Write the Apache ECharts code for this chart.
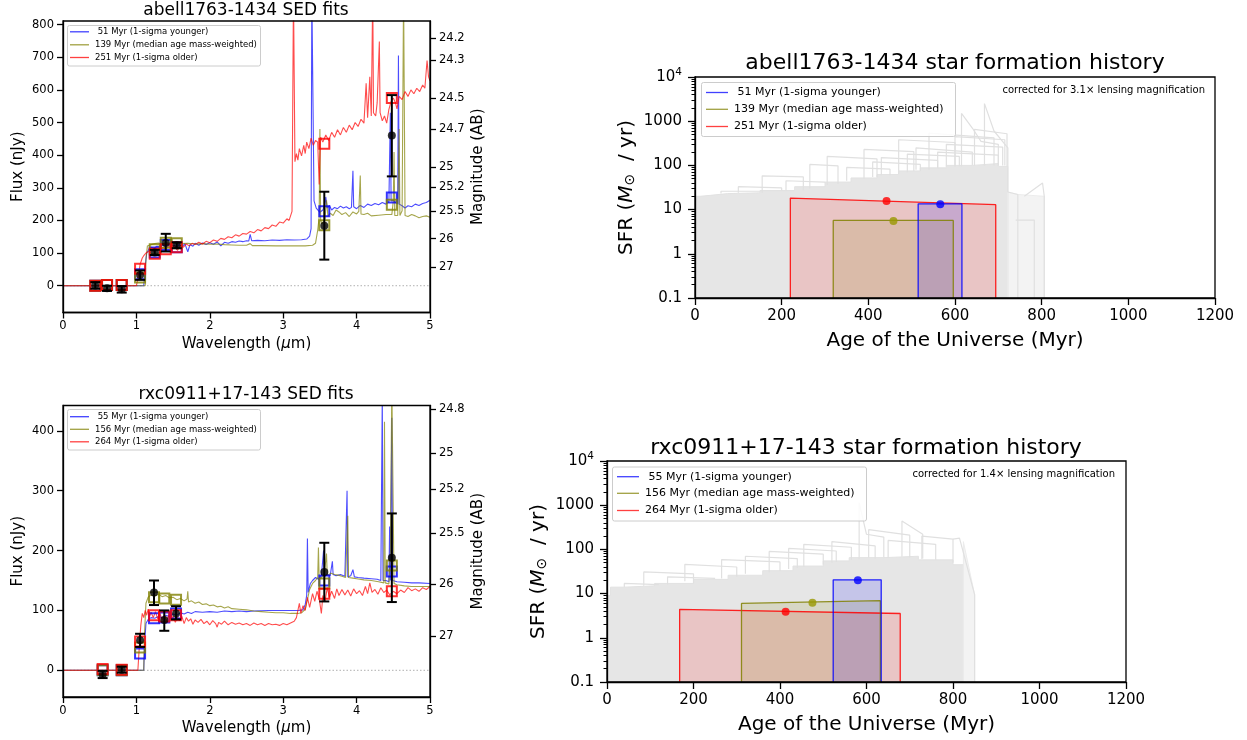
<!DOCTYPE html>
<html>
<head>
<meta charset="utf-8">
<script src="https://cdn.jsdelivr.net/npm/echarts@6/dist/echarts.min.js"></script>
<style>
  html, body { margin: 0; padding: 0; background: #fff; }
  #chart { width: 1247px; height: 740px; }
</style>
</head>
<body>
<div id="chart"></div>
<script>
// ---------- axis ticks ----------
const wavelengthTicks = [0, 1, 2, 3, 4, 5];
const fluxTicksA = [0, 100, 200, 300, 400, 500, 600, 700, 800];
const fluxTicksB = [0, 100, 200, 300, 400];
const magTicksA = [24.2, 24.3, 24.5, 24.7, 25, 25.2, 25.5, 26, 27];
const magTicksB = [24.8, 25, 25.2, 25.5, 26, 27];
const ageTicks = [0, 200, 400, 600, 800, 1000, 1200];
const sfrTicks = [0.1, 1, 10, 100, 1000, 10000];
const sfrMinorTicks = [0.2,0.3,0.4,0.5,0.6,0.7,0.8,0.9, 2,3,4,5,6,7,8,9, 20,30,40,50,60,70,80,90,
  200,300,400,500,600,700,800,900, 2000,3000,4000,5000,6000,7000,8000,9000];

// ---------- labels ----------
const titlesSed = ['abell1763-1434 SED fits', 'rxc0911+17-143 SED fits'];
const titlesSfh = ['abell1763-1434 star formation history', 'rxc0911+17-143 star formation history'];
const legendA = [' 51 Myr (1-sigma younger)', '139 Myr (median age mass-weighted)', '251 Myr (1-sigma older)'];
const legendB = [' 55 Myr (1-sigma younger)', '156 Myr (median age mass-weighted)', '264 Myr (1-sigma older)'];
const lensingNotes = ['corrected for 3.1\u00d7 lensing magnification', 'corrected for 1.4\u00d7 lensing magnification'];

// ---------- photometry: abell1763-1434 ----------
const bandsA = [0.44, 0.6, 0.8, 1.05, 1.25, 1.4, 1.55, 3.56, 4.48];
const obsFluxA = [1, -8, -11, 33, 102, 131, 124, 184, 460];
const obsLoA = [-9, -16, -21, 18, 94, 105, 115, 80, 335];
const obsHiA = [11, 0, -1, 47, 110, 159, 133, 288, 584];
const modelBlueA = [0, 2, 2, 35, 102, 125, 118, 228, 270];
const modelOliveA = [0, 2, 2, 25, 112, 132, 130, 185, 248];
const modelRedA = [0, 2, 2, 52, 98, 112, 118, 435, 575];

// ---------- photometry: rxc0911+17-143 ----------
const bandsB = [0.54, 0.8, 1.05, 1.24, 1.38, 1.54, 3.56, 4.48];
const obsFluxB = [-7, 1, 50, 130, 84, 95, 164, 188];
const obsLoB = [-13, -4, 39, 109, 66, 85, 115, 114];
const obsHiB = [-1, 6, 61, 150, 100, 107, 213, 262];
const modelBlueB = [0, 0, 28, 87, 88, 95, 150, 165];
const modelOliveB = [0, 0, 38, 122, 120, 118, 145, 175];
const modelRedB = [2, 1, 48, 92, 90, 92, 128, 132];

// ---------- model spectra: abell1763-1434 (wavelength um, flux nJy) ----------
const specBlueA = [[0,0],[1.1,0],[1.12,60],[1.14,100],[1.17,112],[1.2,118],[1.24,115],[1.28,121],[1.32,119],[1.36,124],[1.4,122],[1.44,126],[1.48,120],[1.52,125],[1.55,112],[1.58,127],[1.62,118],[1.66,129],[1.7,104],[1.73,126],[1.77,121],[1.8,130],[1.85,124],[1.9,131],[1.95,126],[2.0,132],[2.05,127],[2.1,134],[2.15,122],[2.2,133],[2.25,130],[2.3,135],[2.35,133],[2.4,137],[2.45,135],[2.5,138],[2.53,137],[2.55,157],[2.57,138],[2.65,139],[2.75,138],[2.85,140],[2.95,139],[3.05,141],[3.15,140],[3.25,141],[3.32,143],[3.36,152],[3.38,175],[3.39,900],[3.41,900],[3.42,260],[3.45,238],[3.5,225],[3.54,232],[3.57,250],[3.58,272],[3.6,238],[3.63,246],[3.66,232],[3.7,240],[3.74,236],[3.78,244],[3.82,238],[3.86,242],[3.9,236],[3.93,240],[3.95,352],[3.96,242],[4.0,236],[4.05,246],[4.1,240],[4.15,250],[4.2,246],[4.25,252],[4.3,248],[4.35,255],[4.4,250],[4.44,258],[4.46,530],[4.47,260],[4.5,262],[4.53,255],[4.56,250],[4.57,705],[4.58,250],[4.62,245],[4.66,238],[4.7,245],[4.75,242],[4.8,250],[4.85,246],[4.9,252],[4.95,255],[5.0,262]];
const specOliveA = [[0,0],[1.12,0],[1.13,80],[1.15,122],[1.2,126],[1.25,129],[1.3,131],[1.35,128],[1.4,132],[1.45,130],[1.5,131],[1.6,129],[1.7,130],[1.8,128],[1.9,129],[2.0,127],[2.1,128],[2.2,126],[2.3,125],[2.4,124],[2.5,124],[2.55,129],[2.58,123],[2.7,123],[2.9,122],[3.1,122],[3.3,122],[3.4,124],[3.44,130],[3.47,170],[3.49,210],[3.5,480],[3.51,200],[3.53,190],[3.55,188],[3.57,205],[3.59,262],[3.61,212],[3.64,222],[3.68,215],[3.72,232],[3.76,226],[3.8,218],[3.85,224],[3.9,212],[3.95,226],[4.0,220],[4.03,228],[4.05,338],[4.06,220],[4.1,218],[4.15,222],[4.2,214],[4.3,216],[4.4,218],[4.48,218],[4.5,260],[4.51,410],[4.52,215],[4.56,215],[4.58,480],[4.59,215],[4.62,230],[4.64,900],[4.66,215],[4.7,212],[4.75,218],[4.8,214],[4.85,208],[4.9,212],[4.95,214],[5.0,210]];
const specRedA = [[0,0],[1.0,0],[1.02,20],[1.05,65],[1.08,85],[1.1,92],[1.13,100],[1.16,104],[1.2,108],[1.24,106],[1.28,112],[1.32,110],[1.36,116],[1.4,113],[1.44,120],[1.48,117],[1.52,123],[1.56,108],[1.6,124],[1.64,118],[1.68,128],[1.72,122],[1.76,130],[1.8,126],[1.85,133],[1.9,128],[1.95,136],[2.0,132],[2.05,140],[2.1,136],[2.15,145],[2.2,142],[2.25,150],[2.3,147],[2.35,156],[2.4,152],[2.45,160],[2.5,158],[2.55,166],[2.6,162],[2.65,172],[2.7,168],[2.75,178],[2.8,175],[2.85,186],[2.9,182],[2.95,195],[3.0,192],[3.05,205],[3.08,200],[3.12,228],[3.13,232],[3.14,900],[3.15,900],[3.16,380],[3.18,405],[3.2,385],[3.22,420],[3.25,398],[3.28,430],[3.3,405],[3.32,440],[3.35,420],[3.38,452],[3.41,430],[3.44,445],[3.47,440],[3.49,310],[3.51,455],[3.54,440],[3.58,462],[3.62,445],[3.66,470],[3.7,455],[3.74,478],[3.78,462],[3.82,485],[3.86,470],[3.9,492],[3.94,478],[3.98,500],[4.02,488],[4.06,510],[4.1,498],[4.13,620],[4.15,515],[4.18,640],[4.2,520],[4.22,900],[4.23,530],[4.26,520],[4.28,560],[4.31,748],[4.32,530],[4.35,505],[4.38,520],[4.41,498],[4.44,540],[4.47,565],[4.5,575],[4.53,560],[4.55,542],[4.58,580],[4.62,570],[4.66,595],[4.7,580],[4.74,600],[4.78,588],[4.82,605],[4.86,595],[4.9,615],[4.93,605],[4.96,690],[4.98,640],[5.0,628]];

// ---------- model spectra: rxc0911+17-143 ----------
const specBlueB = [[0,0],[1.1,0],[1.11,40],[1.13,78],[1.16,85],[1.2,88],[1.25,87],[1.3,90],[1.35,88],[1.4,92],[1.45,90],[1.5,94],[1.55,92],[1.6,96],[1.65,94],[1.7,97],[1.75,95],[1.8,98],[1.9,97],[2.0,98],[2.1,97],[2.2,99],[2.3,98],[2.4,99],[2.5,98],[2.6,99],[2.8,100],[3.0,100],[3.2,100],[3.27,101],[3.3,110],[3.32,125],[3.33,220],[3.34,130],[3.37,145],[3.4,150],[3.44,155],[3.48,152],[3.52,158],[3.55,200],[3.56,156],[3.6,160],[3.64,158],[3.67,182],[3.68,160],[3.72,158],[3.78,160],[3.84,157],[3.87,300],[3.88,156],[3.92,158],[3.95,168],[3.97,156],[4.02,155],[4.1,154],[4.2,153],[4.28,152],[4.33,150],[4.35,460],[4.36,150],[4.4,150],[4.44,148],[4.45,240],[4.46,150],[4.48,422],[4.49,150],[4.55,148],[4.65,147],[4.75,146],[4.85,146],[5.0,145]];
const specOliveB = [[0,0],[1.1,0],[1.11,60],[1.13,112],[1.16,122],[1.2,126],[1.25,124],[1.3,127],[1.35,123],[1.4,125],[1.45,121],[1.5,122],[1.55,118],[1.6,120],[1.65,116],[1.69,119],[1.7,132],[1.71,114],[1.75,116],[1.8,112],[1.85,114],[1.9,110],[1.95,111],[2.0,108],[2.05,109],[2.1,106],[2.15,107],[2.2,104],[2.25,106],[2.3,103],[2.4,102],[2.5,101],[2.6,99],[2.7,98],[2.8,97],[2.9,96],[3.0,96],[3.1,95],[3.2,95],[3.25,96],[3.3,102],[3.33,118],[3.36,135],[3.4,145],[3.44,150],[3.47,155],[3.48,205],[3.49,152],[3.52,155],[3.56,160],[3.59,195],[3.6,158],[3.65,162],[3.7,160],[3.75,159],[3.8,157],[3.85,155],[3.88,258],[3.89,155],[3.95,154],[4.0,153],[4.1,151],[4.2,150],[4.3,148],[4.37,146],[4.38,415],[4.39,146],[4.44,144],[4.46,200],[4.48,480],[4.5,480],[4.51,145],[4.55,143],[4.65,141],[4.75,140],[4.85,140],[5.0,140]];
const specRedB = [[0,0],[1.02,0],[1.04,40],[1.06,75],[1.08,95],[1.1,88],[1.12,100],[1.14,92],[1.16,102],[1.18,90],[1.2,97],[1.23,88],[1.26,98],[1.29,86],[1.32,95],[1.35,84],[1.38,93],[1.41,82],[1.44,92],[1.47,85],[1.5,90],[1.53,80],[1.56,89],[1.59,83],[1.62,90],[1.65,78],[1.68,88],[1.71,82],[1.74,86],[1.77,77],[1.8,84],[1.84,80],[1.88,85],[1.92,78],[1.96,82],[2.0,76],[2.04,83],[2.08,78],[2.1,72],[2.12,80],[2.16,77],[2.2,82],[2.25,76],[2.3,80],[2.35,77],[2.4,79],[2.45,76],[2.5,78],[2.55,75],[2.6,79],[2.65,76],[2.7,78],[2.75,75],[2.8,78],[2.85,76],[2.9,77],[2.95,75],[3.0,78],[3.05,76],[3.1,79],[3.15,82],[3.18,88],[3.2,85],[3.22,112],[3.24,95],[3.27,108],[3.3,100],[3.33,122],[3.36,105],[3.4,128],[3.43,115],[3.46,132],[3.49,120],[3.52,95],[3.54,125],[3.57,115],[3.6,138],[3.63,122],[3.66,132],[3.7,120],[3.73,136],[3.76,125],[3.8,135],[3.84,126],[3.88,134],[3.92,124],[3.96,136],[4.0,128],[4.04,133],[4.08,125],[4.12,140],[4.15,128],[4.18,146],[4.21,130],[4.25,135],[4.29,127],[4.33,138],[4.37,130],[4.41,134],[4.45,126],[4.5,132],[4.55,128],[4.6,134],[4.65,130],[4.7,138],[4.75,133],[4.8,136],[4.85,132],[4.9,138],[4.95,135],[5.0,140]];

// ---------- star formation histories (age Myr, SFR Msun/yr) ----------
// posterior draws, drawn as a shaded envelope plus the outlines that stand above it
const drawsFillA = [[0,0.1],[0,20],[12,20],[12,21],[35,21],[35,23],[75,23],[75,24],[150,24],[150,27],[230,27],[230,33],[300,33],[300,42],[360,42],[360,52],[420,52],[420,62],[470,62],[470,75],[520,75],[520,88],[580,88],[580,100],[640,100],[640,110],[700,110],[700,95],[722,95],[722,0.1]];
const drawsFaintA = [[722,0.1],[722,25],[745,22],[806,20],[806,0.1]];
const drawsEdgesA = [
  [[60,23],[60,26],[150,26]],
  [[100,24],[100,33],[200,31],[200,27]],
  [[155,24],[155,58],[250,55],[250,27]],
  [[210,27],[210,45],[300,42]],
  [[265,30],[265,105],[330,98],[330,38]],
  [[305,36],[305,160],[420,140],[420,55]],
  [[350,45],[350,90],[450,82],[450,60]],
  [[390,50],[390,230],[505,205],[505,75]],
  [[410,55],[410,120],[520,105],[520,75]],
  [[430,60],[430,150],[560,130],[560,85]],
  [[470,65],[470,380],[600,330],[600,95]],
  [[490,70],[490,180],[610,160],[610,95]],
  [[510,80],[510,250],[640,200],[640,100]],
  [[540,80],[540,540],[690,420],[690,100]],
  [[560,90],[560,200],[700,170],[700,100]],
  [[580,95],[580,300],[710,260],[710,100]],
  [[600,95],[600,450],[715,380],[715,100]],
  [[615,95],[615,1500],[640,700],[660,350],[700,300],[700,100]],
  [[645,100],[645,650],[720,520],[720,95]],
  [[668,100],[668,2500],[690,600],[722,250],[722,90]],
  [[722,90],[722,25],[745,22],[745,0.1]],
  [[740,5.8],[783,5.8],[783,0.1]],
  [[760,20],[802,40],[806,20],[806,0.1]]
];
const drawsFillB = [[0,0.1],[0,9],[8,9],[8,14],[40,14],[40,15],[110,15],[110,17],[200,17],[200,21],[280,21],[280,26],[360,26],[360,33],[430,33],[430,42],[500,42],[500,55],[560,55],[560,65],[640,65],[640,70],[720,70],[720,58],[800,58],[800,45],[824,45],[824,0.1]];
const drawsFaintB = [[824,0.1],[824,150],[850,9.5],[850,0.1]];
const drawsEdgesB = [
  [[40,14],[40,17],[120,16]],
  [[85,15],[85,31],[200,28],[200,17]],
  [[140,16],[140,24],[250,22]],
  [[180,19],[180,46],[300,40],[300,24]],
  [[265,22],[265,59],[400,52],[400,32]],
  [[320,28],[320,70],[440,62],[440,38]],
  [[375,30],[375,90],[500,78],[500,45]],
  [[420,36],[420,105],[530,92],[530,52]],
  [[455,40],[455,130],[565,112],[565,58]],
  [[520,50],[520,150],[620,120],[620,62]],
  [[583,60],[583,1150],[600,220],[640,190],[640,66]],
  [[605,66],[605,280],[700,210],[700,66]],
  [[650,66],[650,160],[760,130],[760,58]],
  [[682,68],[682,440],[730,220],[730,62]],
  [[728,60],[728,200],[800,170],[800,50]],
  [[800,170],[815,180],[850,9.5],[850,0.1]]
];

// constant-SFR bins: [start age, end age, SFR at start, SFR at end]
const binYoungA = [515, 616, 13.5, 13.5];
const binMedianA = [319, 596, 5.7, 5.7];
const binOldA = [220, 694, 18.2, 12.9];
const markYoungA = [566, 13.2];
const markMedianA = [458, 5.5];
const markOldA = [442, 15.6];

const binYoungB = [523, 634, 20.5, 20.5];
const binMedianB = [311, 632, 6.0, 6.9];
const binOldB = [168, 678, 4.4, 3.55];
const markYoungB = [580, 20];
const markMedianB = [475, 6.2];
const markOldB = [413, 3.9];

// ---------- styling ----------
const FONT = 'DejaVu Sans';
const BLUE = '#0000ff', OLIVE = '#808000', RED = '#ff0000';
const AB_ZERO_NJY = 31.4;

const magToFlux = m => Math.pow(10, (AB_ZERO_NJY - m) / 2.5);
const fluxToMagLabel = v => String(Math.round((AB_ZERO_NJY - 2.5 * Math.log10(v)) * 10) / 10);

const grids = [
  { left: 63, top: 21, width: 367, height: 291.5 },
  { left: 63, top: 405.5, width: 367, height: 291.5 },
  { left: 695, top: 77, width: 520, height: 221 },
  { left: 607, top: 461, width: 519, height: 221 }
].map(g => Object.assign({ show: true, z: 10, borderColor: '#000', borderWidth: 1.3, backgroundColor: 'transparent' }, g));

const axisLineBlack = { show: true, onZero: false, lineStyle: { color: '#000', width: 1.3 } };

function sedX(gi) {
  return {
    type: 'value', gridIndex: gi, min: 0, max: 5, interval: 1, z: 10,
    name: 'Wavelength ({it|\u03bc}m)', nameLocation: 'middle', nameGap: 24,
    nameTextStyle: { fontFamily: FONT, fontSize: 15, color: '#000',
      rich: { it: { fontFamily: FONT, fontSize: 15, fontStyle: 'italic', color: '#000' } } },
    axisLine: axisLineBlack,
    axisTick: { show: true, length: 6, lineStyle: { color: '#000', width: 1.3 }, customValues: wavelengthTicks },
    axisLabel: { fontFamily: FONT, fontSize: 11.5, color: '#000', margin: 8, customValues: wavelengthTicks,
      formatter: v => String(v) },
    splitLine: { show: false }
  };
}
function sfhX(gi) {
  return {
    type: 'value', gridIndex: gi, min: 0, max: 1200, interval: 200, z: 10,
    name: 'Age of the Universe (Myr)', nameLocation: 'middle', nameGap: 33,
    nameTextStyle: { fontFamily: FONT, fontSize: 20, color: '#000' },
    axisLine: axisLineBlack,
    axisTick: { show: true, length: 7, lineStyle: { color: '#000', width: 1.3 }, customValues: ageTicks },
    axisLabel: { fontFamily: FONT, fontSize: 15, color: '#000', margin: 11, customValues: ageTicks,
      formatter: v => String(v) },
    splitLine: { show: false }
  };
}
function sedFluxY(gi, min, max, ticks) {
  return {
    type: 'value', gridIndex: gi, min: min, max: max, position: 'left', z: 10,
    name: 'Flux (nJy)', nameLocation: 'middle', nameGap: 37, nameRotate: 90,
    nameTextStyle: { fontFamily: FONT, fontSize: 15, color: '#000' },
    axisLine: axisLineBlack,
    axisTick: { show: true, length: 6, lineStyle: { color: '#000', width: 1.3 }, customValues: ticks },
    axisLabel: { fontFamily: FONT, fontSize: 11.5, color: '#000', margin: 9, customValues: ticks,
      formatter: v => String(v) },
    splitLine: { show: false }
  };
}
function sedMagY(gi, min, max, mags) {
  const pos = mags.map(magToFlux);
  return {
    type: 'value', gridIndex: gi, min: min, max: max, position: 'right', z: 10,
    name: 'Magnitude (AB)', nameLocation: 'middle', nameGap: 41, nameRotate: 90,
    nameTextStyle: { fontFamily: FONT, fontSize: 15, color: '#000' },
    axisLine: axisLineBlack,
    axisTick: { show: true, length: 6, lineStyle: { color: '#000', width: 1.3 }, customValues: pos },
    axisLabel: { fontFamily: FONT, fontSize: 11.5, color: '#000', margin: 9, customValues: pos,
      formatter: v => fluxToMagLabel(v) },
    splitLine: { show: false }
  };
}
function sfhY(gi) {
  return {
    type: 'log', logBase: 10, gridIndex: gi, min: 0.1, max: 10000, position: 'left', z: 10,
    name: 'SFR ({it|M}{sub|\u2299}  / yr)', nameLocation: 'middle', nameGap: 58, nameRotate: 90,
    nameTextStyle: { fontFamily: FONT, fontSize: 20, color: '#000',
      rich: { it: { fontFamily: FONT, fontSize: 20, fontStyle: 'italic', color: '#000' },
              sub: { fontFamily: FONT, fontSize: 14, color: '#000', verticalAlign: 'bottom', padding: [6, 0, 0, 0] } } },
    axisLine: axisLineBlack,
    axisTick: { show: true, length: 7, lineStyle: { color: '#000', width: 1.3 }, customValues: sfrTicks },
    axisLabel: { fontFamily: FONT, fontSize: 15, color: '#000', margin: 13, customValues: sfrTicks,
      formatter: v => (v > 5000 ? '10{sup|4}' : (v < 0.5 ? '0.1' : String(Math.round(v)))),
      rich: { sup: { fontFamily: FONT, fontSize: 10.5, color: '#000', verticalAlign: 'top', padding: [0, 0, 9, 0] } } },
    splitLine: { show: false }
  };
}
function sfhMinorY(gi) {
  return {
    type: 'log', logBase: 10, gridIndex: gi, min: 0.1, max: 10000, position: 'left', z: 10,
    axisLine: { show: false },
    axisTick: { show: true, length: 3.5, lineStyle: { color: '#000', width: 1 }, customValues: sfrMinorTicks },
    axisLabel: { show: false },
    splitLine: { show: false }
  };
}

// ---------- series builders ----------
function lineSeries(xi, yi, data, color, opacity, z) {
  return { type: 'line', xAxisIndex: xi, yAxisIndex: yi, data: data, symbol: 'none', smooth: false,
    clip: true, silent: true, z: z || 2,
    lineStyle: { color: color, width: 1.1, opacity: opacity } };
}
function squares(xi, yi, bands, vals, color) {
  return { type: 'scatter', xAxisIndex: xi, yAxisIndex: yi, symbol: 'rect', symbolSize: 10, z: 4, silent: true,
    data: bands.map((b, i) => [b, vals[i]]),
    itemStyle: { color: 'rgba(0,0,0,0)', borderColor: color, borderWidth: 2, opacity: 0.8 } };
}
function errorBars(xi, yi, bands, lo, hi) {
  return { type: 'custom', xAxisIndex: xi, yAxisIndex: yi, z: 5, silent: true,
    data: bands.map((b, i) => [b, lo[i], hi[i]]),
    renderItem: (params, api) => {
      const a = api.coord([api.value(0), api.value(1)]);
      const b = api.coord([api.value(0), api.value(2)]);
      const cap = 5, st = { stroke: '#000', lineWidth: 2 };
      return { type: 'group', children: [
        { type: 'line', shape: { x1: a[0], y1: a[1], x2: b[0], y2: b[1] }, style: st },
        { type: 'line', shape: { x1: a[0] - cap, y1: a[1], x2: a[0] + cap, y2: a[1] }, style: st },
        { type: 'line', shape: { x1: b[0] - cap, y1: b[1], x2: b[0] + cap, y2: b[1] }, style: st }
      ] };
    } };
}
function points(xi, yi, bands, vals) {
  return { type: 'scatter', xAxisIndex: xi, yAxisIndex: yi, symbol: 'circle', symbolSize: 8, z: 6, silent: true,
    data: bands.map((b, i) => [b, vals[i]]), itemStyle: { color: '#000' } };
}
function zeroLine(xi, yi) {
  return { type: 'line', xAxisIndex: xi, yAxisIndex: yi, data: [[0, 0], [5, 0]], symbol: 'none', silent: true, z: 1,
    lineStyle: { color: '#b0b0b0', width: 1, type: [1.5, 2] } };
}
function areaSeries(xi, yi, data, fill, stroke, z) {
  return { type: 'line', xAxisIndex: xi, yAxisIndex: yi, data: data, symbol: 'none', silent: true, z: z || 1,
    lineStyle: { color: stroke, width: 1 }, areaStyle: { color: fill, origin: 'start', opacity: 1 } };
}
function binSeries(xi, yi, bin, color, fill) {
  const data = [[bin[0], 0.1], [bin[0], bin[2]], [bin[1], bin[3]], [bin[1], 0.1]];
  return { type: 'line', xAxisIndex: xi, yAxisIndex: yi, data: data, symbol: 'none', silent: true, z: 3,
    lineStyle: { color: color, width: 1.3, opacity: 0.85 }, areaStyle: { color: fill, origin: 'start' } };
}
function markSeries(xi, yi, pt, color) {
  return { type: 'scatter', xAxisIndex: xi, yAxisIndex: yi, data: [pt], symbol: 'circle', symbolSize: 8, z: 5,
    silent: true, itemStyle: { color: color } };
}

function sedSeries(xi, yFlux, spec, bands, models, obs, lo, hi) {
  return [
    zeroLine(xi, yFlux),
    lineSeries(xi, yFlux, spec[0], BLUE, 0.7),
    lineSeries(xi, yFlux, spec[1], OLIVE, 0.7),
    lineSeries(xi, yFlux, spec[2], RED, 0.7),
    squares(xi, yFlux, bands, models[0], BLUE),
    squares(xi, yFlux, bands, models[1], OLIVE),
    squares(xi, yFlux, bands, models[2], RED),
    errorBars(xi, yFlux, bands, lo, hi),
    points(xi, yFlux, bands, obs)
  ];
}
function sfhSeries(xi, yi, fill, faint, edges, bins, marks) {
  const out = [areaSeries(xi, yi, fill, '#e6e6e6', '#e2e2e2', 1), areaSeries(xi, yi, faint, '#f3f3f3', '#ececec', 1)];
  edges.forEach(e => out.push({ type: 'line', xAxisIndex: xi, yAxisIndex: yi, data: e, symbol: 'none', silent: true,
    z: 2, lineStyle: { color: '#e0e0e0', width: 1.2 } }));
  out.push(binSeries(xi, yi, bins[2], RED, 'rgba(255,0,0,0.2)'));
  out.push(binSeries(xi, yi, bins[1], OLIVE, 'rgba(128,128,0,0.2)'));
  out.push(binSeries(xi, yi, bins[0], BLUE, 'rgba(0,0,255,0.2)'));
  out.push(markSeries(xi, yi, marks[2], RED));
  out.push(markSeries(xi, yi, marks[1], '#999900'));
  out.push(markSeries(xi, yi, marks[0], BLUE));
  return out;
}

// ---------- legends (boxes drawn with graphic elements) ----------
function legend(box, lineX, textX, rowYs, fontSize, labels) {
  const colors = [BLUE, OLIVE, RED];
  const els = [{ type: 'rect', z: 100, shape: { x: box[0], y: box[1], width: box[2], height: box[3], r: 2 },
    style: { fill: 'rgba(255,255,255,0.85)', stroke: '#cccccc', lineWidth: 1 } }];
  labels.forEach((t, i) => {
    els.push({ type: 'line', z: 101, shape: { x1: lineX[0], y1: rowYs[i], x2: lineX[1], y2: rowYs[i] },
      style: { stroke: colors[i], lineWidth: 1.3, opacity: 0.75 } });
    els.push({ type: 'text', z: 101, x: textX, y: rowYs[i],
      style: { text: t, fill: '#000', font: fontSize + 'px "' + FONT + '"', textVerticalAlign: 'middle', verticalAlign: 'middle' } });
  });
  return els;
}

const graphic = [].concat(
  legend([67.5, 25.5, 193, 40.5], [70, 89], 95, [31.8, 44.8, 57.5], 8.5, legendA),
  legend([67.5, 409.5, 193, 40.5], [70, 89], 95, [416.7, 429.3, 441.8], 8.5, legendB),
  legend([701.5, 82.5, 254, 54], [706, 728], 734, [92.5, 109.3, 126.5], 11, legendA),
  legend([612.5, 467, 254, 54], [617, 639], 645, [476.7, 493.3, 510.5], 11, legendB),
  [
    { type: 'text', z: 101, x: 1205, y: 90.5, style: { text: lensingNotes[0], fill: '#000', font: '10px "' + FONT + '"',
      textAlign: 'right', align: 'right', textVerticalAlign: 'middle', verticalAlign: 'middle' } },
    { type: 'text', z: 101, x: 1115, y: 474.5, style: { text: lensingNotes[1], fill: '#000', font: '10px "' + FONT + '"',
      textAlign: 'right', align: 'right', textVerticalAlign: 'middle', verticalAlign: 'middle' } }
  ]
);

const titleStyle = size => ({ fontFamily: FONT, fontSize: size, fontWeight: 'normal', color: '#000' });

const option = {
  animation: false,
  backgroundColor: '#ffffff',
  textStyle: { fontFamily: FONT },
  title: [
    { text: titlesSed[0], left: 246, top: 2, textAlign: 'center', padding: 0, textStyle: titleStyle(17) },
    { text: titlesSed[1], left: 246, top: 386, textAlign: 'center', padding: 0, textStyle: titleStyle(17) },
    { text: titlesSfh[0], left: 955, top: 52, textAlign: 'center', padding: 0, textStyle: titleStyle(22) },
    { text: titlesSfh[1], left: 866, top: 437, textAlign: 'center', padding: 0, textStyle: titleStyle(22) }
  ],
  grid: grids,
  xAxis: [sedX(0), sedX(1), sfhX(2), sfhX(3)],
  yAxis: [
    sedFluxY(0, -82, 811, fluxTicksA), sedMagY(0, -82, 811, magTicksA),
    sedFluxY(1, -44.6, 442.3, fluxTicksB), sedMagY(1, -44.6, 442.3, magTicksB),
    sfhY(2), sfhMinorY(2), sfhY(3), sfhMinorY(3)
  ],
  series: [].concat(
    sedSeries(0, 0, [specBlueA, specOliveA, specRedA], bandsA, [modelBlueA, modelOliveA, modelRedA], obsFluxA, obsLoA, obsHiA),
    sedSeries(1, 2, [specBlueB, specOliveB, specRedB], bandsB, [modelBlueB, modelOliveB, modelRedB], obsFluxB, obsLoB, obsHiB),
    sfhSeries(2, 4, drawsFillA, drawsFaintA, drawsEdgesA, [binYoungA, binMedianA, binOldA], [markYoungA, markMedianA, markOldA]),
    sfhSeries(3, 6, drawsFillB, drawsFaintB, drawsEdgesB, [binYoungB, binMedianB, binOldB], [markYoungB, markMedianB, markOldB])
  ),
  graphic: graphic
};

const chart = echarts.init(document.getElementById('chart'), null, { renderer: 'canvas' });
chart.setOption(option);
</script>
</body>
</html>
